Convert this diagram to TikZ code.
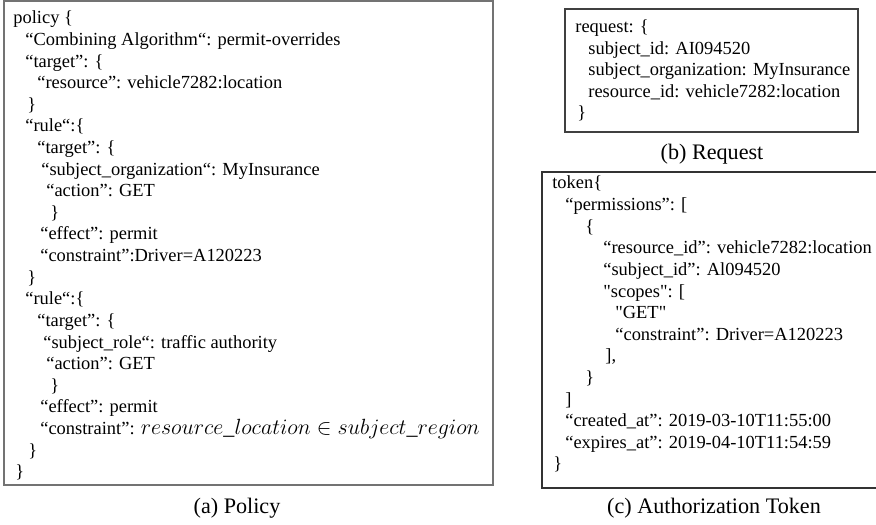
\documentclass[tikz,border=0pt]{standalone}
\usepackage{graphicx}
\usepackage{fontspec}
\setmainfont{Liberation Serif}
\newfontfamily\codefont{Liberation Serif}
\newcommand{\sq}{\textquotedbl}
\begin{document}
\begin{tikzpicture}[x=0.5556pt,y=-0.5556pt,
  codeline/.style={anchor=base west,inner sep=0pt,font=\codefont\fontsize{10.25}{12.3}\selectfont},
  caption/.style={anchor=base,inner sep=0pt,font=\codefont\fontsize{12.3}{14}\selectfont},
  pbox/.style={draw=black!55,line width=0.8pt},
  rbox/.style={draw=black!75,line width=0.7pt},
  tbox/.style={draw=black!80,line width=0.7pt}]
\useasboundingbox (0,0) rectangle (876,525);
% boxes
\draw[pbox] (4,1) rectangle (493,485);
\draw[rbox] (565,9) rectangle (858,132);
\draw[tbox] (878,172) -- (542,172) -- (542,488) -- (878,488);
% policy
\def\pb{24}\def\ps{21.6}
\node[codeline] (p0)  at (13,{\pb+0*\ps}) {policy \{};
\node[codeline] (p1)  at (25,{\pb+1*\ps}) {“Combining Algorithm“: permit-overrides};
\node[codeline] (p2)  at (25,{\pb+2*\ps}) {“target”: \{};
\node[codeline] (p3)  at (37,{\pb+3*\ps}) {“resource”: vehicle7282:location};
\node[codeline] (p4)  at (27,{\pb+4*\ps}) {\}};
\node[codeline] (p5)  at (25,{\pb+5*\ps}) {“rule“:\{};
\node[codeline] (p6)  at (37,{\pb+6*\ps}) {“target”: \{};
\node[codeline] (p7)  at (41,{\pb+7*\ps}) {“subject\_organization“: MyInsurance};
\node[codeline] (p8)  at (46,{\pb+8*\ps}) {“action”: GET};
\node[codeline] (p9)  at (50,{\pb+9*\ps}) {\}};
\node[codeline] (p10) at (40,{\pb+10*\ps}) {“effect”: permit};
\node[codeline] (p11) at (40,{\pb+11*\ps}) {“constraint”:Driver=A120223};
\node[codeline] (p12) at (27,{\pb+12*\ps}) {\}};
\node[codeline] (p13) at (25,{\pb+13*\ps}) {“rule“:\{};
\node[codeline] (p14) at (37,{\pb+14*\ps}) {“target”: \{};
\node[codeline] (p15) at (43,{\pb+15*\ps}) {“subject\_role“: traffic authority};
\node[codeline] (p16) at (46,{\pb+16*\ps}) {“action”: GET};
\node[codeline] (p17) at (50,{\pb+17*\ps}) {\}};
\node[codeline] (p18) at (40,{\pb+18*\ps}) {“effect”: permit};
\node[codeline] (p19) at (40,{\pb+19*\ps}) {“constraint”: \scalebox{1.02}{\fontsize{12}{14}\selectfont$resource\_location \in subject\_region$}};
\node[codeline] (p20) at (28,{\pb+20*\ps}) {\}};
\node[codeline] (p21) at (15,{\pb+21*\ps}) {\}};
% request
\def\rb{33}\def\rs{21.5}
\node[codeline] (r0) at (575,{\rb+0*\rs}) {request: \{};
\node[codeline] (r1) at (588,{\rb+1*\rs}) {subject\_id: AI094520};
\node[codeline] (r2) at (588,{\rb+2*\rs}) {subject\_organization: MyInsurance};
\node[codeline] (r3) at (588,{\rb+3*\rs}) {resource\_id: vehicle7282:location};
\node[codeline] (r4) at (577,{\rb+4*\rs}) {\}};
% token
\def\tb{189}\def\ts{21.6}
\node[codeline] (t0)  at (552,{\tb+0*\ts}) {token\{};
\node[codeline] (t1)  at (565,{\tb+1*\ts}) {“permissions”: [};
\node[codeline] (t2)  at (585,{\tb+2*\ts}) {\{};
\node[codeline] (t3)  at (603,{\tb+3*\ts}) {“resource\_id”: vehicle7282:location};
\node[codeline] (t4)  at (603,{\tb+4*\ts}) {“subject\_id”: Al094520};
\node[codeline] (t5)  at (603,{\tb+5*\ts}) {\sq scopes\sq: [};
\node[codeline] (t6)  at (615,{\tb+6*\ts}) {\sq GET\sq};
\node[codeline] (t7)  at (615,{\tb+7*\ts}) {“constraint”: Driver=A120223};
\node[codeline] (t8)  at (605,{\tb+8*\ts}) {],};
\node[codeline] (t9)  at (585,{\tb+9*\ts}) {\}};
\node[codeline] (t10) at (565,{\tb+10*\ts}) {]};
\node[codeline] (t11) at (565,{\tb+11*\ts}) {“created\_at”: 2019-03-10T11:55:00};
\node[codeline] (t12) at (565,{\tb+12*\ts}) {“expires\_at”: 2019-04-10T11:54:59};
\node[codeline] (t13) at (553,{\tb+13*\ts}) {\}};
% captions
\node[caption] (ca) at (237,513) {(a) Policy};
\node[caption] (cb) at (712,160) {(b) Request};
\node[caption] (cc) at (714,513) {(c) Authorization Token};
\end{tikzpicture}
\end{document}
